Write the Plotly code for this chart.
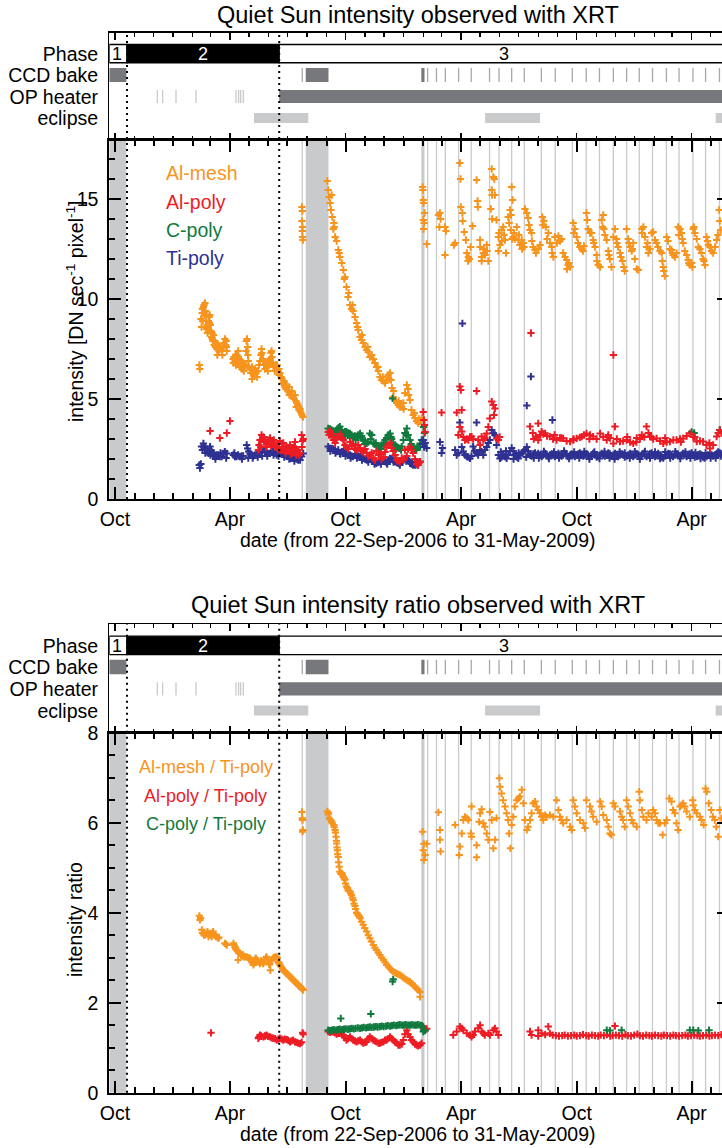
import plotly.graph_objects as go
from datetime import datetime, timedelta

# ---------------- data (x = days since 22-Sep-2006) ----------------
START = datetime(2006, 9, 22)
VIEW_END = 970.0            # right edge of the visible window (data run to day 982 = 31-May-2009)
DATA_END = 982

phase_edges = [0, 28, 269, 982]
phase_names = ["1", "2", "3"]
ccd_bake_long = [(0, 27), (311, 347), (494, 499)]
ccd_bake_short = [305.5, 504, 518, 532, 553, 573, 602, 617, 637, 657, 684, 706, 733, 755,
                  776, 798, 819, 839, 860, 882, 902, 924, 944, 966]
op_heater_short = [76, 84.5, 105.6, 137.2, 200.6, 204.8, 208, 212.2]
op_heater_long = [(269, 982)]
eclipse_seasons = [(229, 315), (595, 682), (960, 982)]

al_mesh = [(142.5,6.7),(143.3,6.5),(145,9.0),(146,8.6),(147,9.3),(147.5,9.5),(148,8.9),(149,9.6),(150,9.7),(150,9.3),(151,9.2),(151.5,9.8),(152,9.4),(153,8.9),(154,8.5),(155,8.7),(155.5,8.3),(156,8.6),(157,8.9),(157,8.4),(158,9.1),(158.5,8.8),(159,9.2),(160,8.7),(161,8.4),(162,8.1),(162.5,8.3),(163,8.0),(164,7.9),(165,8.2),(166,7.7),(167,7.9),(168,7.6),(169,7.8),(170.5,7.5),(171,7.2),(172,7.7),(173.5,7.4),(175,7.6),(177,7.5),(178.5,7.4),(179,7.2),(180,7.6),(181.5,7.8),(183,8.0),(184,7.7),(185,7.9),(185.5,7.6),(186,7.4),
(196,7.0),(196.5,6.8),(197.5,7.1),(199,6.9),(200,7.2),(200.5,6.7),(202,7.2),(204,7.4),(204.5,7.1),(205,6.8),(206,7.0),(207,6.6),(208.5,6.9),(210,6.5),(211.5,6.6),(212,6.8),(213,6.4),(215,6.7),
(216.5,7.4),(217,7.9),(218,8.0),(219,7.6),(219.5,7.2),(220,6.9),(221,6.6),(222.5,6.5),(224,6.3),(226,6.6),(226,6.0),(227.5,6.4),(229,6.2),(230.5,6.5),(232,6.3),(233,6.4),(234,6.1),(235.5,6.4),(237,6.7),(238.5,6.9),(240,7.2),(241,7.5),(241.5,7.3),(243,7.0),(244,6.9),(245,6.7),(246.5,6.5),(248,6.8),(249.5,6.6),(251,6.4),(252,6.9),(253,6.7),(254.5,7.0),(256,7.3),(257,7.4),(257.5,7.1),(259,6.8),(260.5,6.6),(262,6.4),(263,6.7),(264,6.5),(265.5,6.7),(267,6.4),(268.5,6.5),(269,6.2),(270,6.3),(272,6.1),(273.5,6.0),(275,5.8),(276.5,5.9),(277,5.7),(278,5.6),(279.5,5.5),(281,5.7),(283,5.4),(284.5,5.6),(285,5.2),(286,5.3),(287.5,5.2),(289,5.4),(291,5.1),(292.5,5.0),(294,5.2),(295.5,4.9),(296,4.6),(297,4.8),(298.5,4.7),(300,4.6),(302,4.5),(302,4.4),(303.5,4.3),(305,4.2),(306.5,4.1),
(305,14.6),(305.5,14.4),(305,13.9),(306,13.6),(305.5,13.4),(306,13.1),(306.5,12.95),
(345,15.9),(346.5,15.45),(348,15.1),(349.5,14.8),(351,14.45),(352,15.2),(353,14.1),(354.5,13.5),(355.5,13.8),(356,13.6),(357.5,13.1),(360,12.9),(362.5,12.45),(364,12.3),(365,12.1),(368,11.8),(370.5,11.45),(372,11.0),(373,11.1),(375.5,10.6),(378,10.1),(379,10.3),(381,9.7),(383.5,9.5),(385,9.7),(386,9.4),(389,9.1),(391.5,8.8),(393,8.6),(394,8.45),(397,8.1),(399.5,7.95),(400,8.2),(402,7.8),(405,7.6),(407.5,7.45),(409,7.6),(410,7.35),(412.5,7.1),(415.5,7.2),(417,7.0),(418,7.0),(420.5,6.8),(423,6.6),(425,6.6),(426,6.4),(428.5,6.1),(431,5.95),(433,6.1),(434,5.9),(436.5,5.8),(439,5.95),(441.5,6.2),(443,6.0),(444.5,6.3),(446,5.95),(447.5,5.55),(449.5,5.1),(450,5.4),(452.5,4.95),(455,4.8),(457.5,4.7),(458,4.9),(460,4.6),(463,4.6),(465.5,4.8),(466,4.5),(468,5.3),(471,5.7),(473,5.5),(474,5.2),(476,4.95),(478.5,4.45),(481,4.2),(483,4.3),(484,4.05),(486.5,3.9),(489,3.8),(490,4.0),(492,3.9),(494.5,4.05),
(496,15.6),(496.5,15.45),(497,14.95),(497.5,14.8),(497,13.95),(498.5,13.8),(497.5,13.5),(499,14.3),(502.5,12.75),
(521,14.2),(523.5,14.3),(524.5,14.0),(522.5,13.6),(531.5,13.6),(533,13.4),(531.5,12.2),(545.5,12.7),(547.5,12.8),
(555,16.8),(556,16.0),(556.5,14.6),(559,14.3),(559.5,13.9),(562,13.35),(564.5,12.95),(566,12.3),(568,11.9),(568.5,12.1),(570,12.0),(572,12.6),(575,13.65),
(581.5,15.95),(583,14.9),(583.5,14.6),(587,12.95),(587,12.6),(589.5,12.1),(589.5,11.9),(592,12.3),(593,12.5),(595,12.2),(597.5,12.7),(598,12.4),(600,11.9),
(605.5,16.5),(605.5,15.45),(608,16.1),(609.5,16.0),(606,15.2),(604,14.5),(610.5,15.2),(613,13.95),(606,14.0),
(616,13.1),(616,12.4),(617,13.3),(618.5,12.7),(621,13.45),(621.5,12.9),(623.5,13.6),(625,13.2),(626.5,12.95),(628,12.3),
(631.5,14.1),(633,13.8),(634.5,14.45),(635.5,13.45),(636,14.2),(637,15.6),(637.5,13.0),(638.5,14.95),(639.5,13.1),(640.5,13.3),(642,13.0),(645,13.6),
(647.5,12.95),(648.5,13.2),(650,12.7),(653,12.95),(653.5,12.5),(655.5,12.8),(656.5,12.6),(658,14.5),(661,14.3),(663,14.05),
(664.5,13.7),(666,13.45),(668.5,13.3),(669,12.9),(671,12.6),(674,12.45),(675.5,12.3),(679,12.5),(682,12.7),
(685.5,14.1),(686.5,13.7),(688,13.9),(691,13.6),(693,13.0),(695,13.3),(697.5,12.8),(700.5,12.6),(701,12.3),(703,12.1),
(705.5,13.1),(708.5,12.8),(711,13.15),(713.5,12.9),(716,13.0),(718.5,12.3),(721.5,12.1),(724,11.95),(724.5,11.5),(726.5,11.7),(727.5,11.8),(729.5,11.6),
(734.5,13.8),(735.5,13.3),(737,13.5),(740,13.1),(742,12.8),(745,12.6),(748,12.5),(750,12.4),(751.5,12.65),(755.5,14.3),(756.5,13.95),(758,13.5),
(761,13.3),(763.5,13.3),(766,12.95),(767,12.8),(769,12.6),(771.5,12.2),(772,11.9),(774,11.7),(777,11.6),
(779.5,13.95),(781,13.6),(782,14.2),(783,13.5),(784.5,13.2),(787.5,12.95),(790,12.4),(791,12.2),(792.5,12.0),(795,11.6),
(798,13.1),(800.5,13.5),(803,13.0),(803.5,12.8),(805.5,12.6),(808.5,12.3),(810,12.1),(812.5,11.9),(814.5,11.6),(816,11.4),(819,13.5),
(821.5,13.0),(822.5,12.8),(824.5,12.6),(827,12.4),(828,12.5),(829.5,12.8),(832,12.0),(835,11.5),(837.5,11.45),
(843,13.5),(843.5,13.3),(845.5,13.6),(848,13.1),(850.5,12.6),(852,12.8),(853.5,12.3),(856,12.5),(858.5,13.3),(861,13.35),
(864,12.95),(866.5,12.8),(868.5,12.6),(872,12.4),(874.5,12.3),(875.5,11.9),(877,11.6),(878,11.4),(879.5,11.15),(882.5,13.1),(884.5,12.9),(887.5,12.5),
(890,12.45),(891.5,12.3),(892.5,12.2),(895.5,12.1),(898,12.3),(900.5,13.6),(901.5,13.2),(903.5,13.5),(906,13.3),(907,13.0),(908.5,12.8),
(911,12.4),(914,12.2),(916.5,11.95),(917.5,11.8),(919,11.7),(922,11.8),(923,11.6),(924.5,13.5),(925.5,13.6),(927,13.3),(930,13.0),
(932.5,12.6),(935,12.5),(937.5,12.3),(940,12.0),(941.5,11.9),(943,11.7),(945.5,13.1),(947,12.9),(948.5,12.7),(951,12.6),(953.5,12.4),(956,12.3),
(959,12.6),(961.5,12.95),(963.5,13.2),(965.5,14.45),(966.5,13.9),(968,13.45)]

al_poly = [(159.5,3.4),(175,3.05),(186,3.3),(191,3.9),
(236,2.45),(237,2.7),(238.5,2.95),(240,2.6),(241,3.2),(242.5,3.0),(244,3.1),(245,2.85),(246.5,2.95),(248,2.6),(249,2.8),(251,2.95),(253,2.75),(254.5,3.05),(256,2.65),(257,2.9),(259,2.75),(260.5,2.95),(262,2.8),(263,2.6),(265,2.6),(267,2.5),(268.5,2.75),(270,2.9),(271,2.45),(273,2.6),(274,2.45),(275.5,2.8),(278,2.55),(279,2.3),(281,2.6),(283,2.4),(284.5,2.55),(286,2.7),(287,2.25),(288.5,2.45),(290,2.3),(291,2.35),(292.5,2.6),(294,2.85),(295.5,2.5),(296,2.2),(297,2.3),(299,2.45),(300,2.2),(302,2.3),(304.5,3.2),(305,2.6),(306,2.9),(307,3.0),
(346.5,3.35),(348,3.2),(349.5,3.4),(352,3.1),(353.5,3.25),(354.5,2.95),(357.5,2.8),(360,3.0),(362,3.1),(365,3.25),(368,3.05),(370.5,2.95),(373,2.7),(375.5,2.6),(378,2.5),(381,2.85),(383.5,2.65),(386,2.75),(389,2.5),(391.5,2.45),(394,2.7),(397,2.55),(399.5,2.4),(402,2.35),(405,2.5),(407.5,2.3),(410,2.15),(412.5,2.2),(415.5,2.3),(418,2.05),(420.5,1.95),(423,2.4),(426,2.2),(428.5,2.25),(431,2.0),(434,2.1),(436.5,2.35),(439,2.6),(441.5,2.7),(444.5,2.8),(447,2.55),(449.5,2.4),(452.5,2.2),(455,1.95),(457.5,1.9),(460,1.85),(463,2.05),(465.5,1.95),(468,2.45),(471,2.15),(473,2.5),(476,2.6),(478.5,2.45),(481,2.3),(484,2.0),(486.5,1.75),(489,1.7),(490,1.8),(492,1.85),
(497,4.35),(498,3.95),(499,3.7),(500,3.35),
(526,4.32),(550,4.32),(555,5.62),(556.5,5.45),(558,4.45),(552.5,3.2),(555,3.6),(558,3.37),(560.5,3.1),(563,2.95),(566,3.0),(568.5,2.95),(571,3.1),(573.5,3.12),(576,3.0),(581.5,5.4),(584,2.95),(587,2.7),(589.5,3.12),(592,2.95),(594.5,3.05),(597.5,3.28),(600,3.6),(602.5,4.03),(605.5,4.87),(608,4.7),(609,4.2),(610.5,4.53),(613,3.03),(616,2.95),(618,3.1),
(667.5,8.3),(798,7.2),
(666,3.62),(670.5,3.3),(672,3.0),(675.5,3.1),(679,3.78),(679,2.95),(682,3.2),(684.5,3.37),(687,3.25),(690,3.28),(693,3.15),(697.5,3.12),(702.5,3.0),(705,3.2),(708,2.95),(713.5,3.05),(716,3.05),(718.5,3.03),(724,2.9),(729.5,2.87),(734.5,2.95),(735,3.0),(740,3.03),(745,3.08),(748,3.12),(751.5,3.2),(755.5,3.28),(760,3.0),(761,3.2),(766,3.12),(771.5,3.0),(777,3.28),(782,3.1),(787.5,2.95),(790,3.2),(792.5,3.05),(798,2.78),(800.5,3.62),(803.5,3.0),(808.5,2.87),(813.5,2.9),(819,2.95),(820,3.1),(824.5,2.85),(829.5,2.78),(834.5,2.85),(835,3.05),(840,3.0),(843,3.2),(847,3.1),(850.5,3.62),(853.5,3.3),(856,3.12),(858,3.1),(861,3.0),(866.5,3.03),(872,2.9),(877,2.78),(880,3.05),(882.5,2.85),(887.5,2.87),(893,2.95),(898,2.95),(903.5,3.0),(905,2.85),(908.5,3.03),(914,3.15),(919,3.28),(924.5,3.1),(927,3.1),(930,2.87),(935,2.9),(940,2.87),(945.5,2.7),(950,2.8),(951,2.53),(956,2.7),(961.5,3.12),(964,3.3),(966.5,3.45),(969,3.3)]

c_poly = [(346.5,3.53),(349.5,3.5),(352,3.45),(354.5,3.4),(357.5,3.37),(360,3.45),(362.5,3.55),(365,3.62),(368,3.45),(370.5,3.28),(373,3.37),(375.5,3.37),(378,3.3),(381,3.28),(383.5,3.2),(386,3.12),(389,3.15),(391.5,3.12),(394,3.2),(397,3.28),(399.5,3.15),(402,2.95),(405,2.9),(407.5,2.78),(410,2.85),(412.5,3.28),(415.5,3.2),(418,2.78),(420.5,2.75),(423,2.62),(426,2.65),(428.5,2.62),(431,2.7),(434,2.78),(436.5,2.95),(439,3.05),(441.5,3.2),(444.5,3.28),(447,3.0),(448.5,5.03),(449.5,2.78),(452.5,2.7),(455,2.62),(457.5,2.55),(460,2.53),(463,2.62),(465.5,2.95),(468,3.3),(471,3.53),(473,3.2),(476,2.95),(478.5,2.62),(481,2.55),(484,2.5),(486.5,2.55),(489,2.6),(492,2.78),(494.5,2.95),
(350,3.3),(358,3.2),(366,3.3),(374,3.15),(382,3.05),(390,2.95),(398,3.05),(404,2.75),(414,3.0),(422,2.8),(430,2.5),(438,2.8),(446,3.1),(454,2.5),(462,2.45),(470,3.2),(478,2.75),(486,2.45),(492,2.6),
(497.5,3.6),(499,3.3),(789.5,3.1),(922,3.35),(926,3.3),(966.5,3.45)]

ti_poly = [(142.5,1.7),(143.5,1.55),(145,1.75),(146,2.62),(147.5,2.45),(149,2.78),(150,2.6),(151.5,2.62),(152,2.3),(153,2.5),(154,2.45),(155.5,2.35),(157,2.28),(158,2.4),(159.5,2.62),(160,2.2),(161,2.45),(162,2.37),(163.5,2.3),(164.5,2.2),(166,2.15),(167.5,2.12),(168,2.0),(170,2.2),(172.5,2.2),(175,2.12),(176,2.3),(178,2.12),(180.5,2.28),(183,2.37),(185,2.05),(186,2.28),
(196.5,2.2),(198,2.3),(199,2.12),(201.5,2.12),(204,2.2),(207,2.12),(209.5,2.15),(210,2.0),(212,2.15),
(217.5,2.7),(219,2.53),(220,2.05),(220.5,2.37),(222.5,2.28),(225.5,2.2),(227,2.05),(228,2.15),(230.5,2.2),(233.5,2.2),(235,2.1),(236,2.28),(238.5,2.37),(241,2.45),(242,2.15),(244,2.45),(246.5,2.37),(249,2.37),(250,2.15),(251.5,2.28),(254.5,2.28),(257,2.37),(259.5,2.37),(260,2.2),(262.5,2.28),(265,2.2),(267.5,2.28),(268,2.15),(270,2.28),(273,2.25),(275.5,2.25),(277,2.1),(278,2.2),(281,2.15),(283.5,2.12),(285,2.0),(286,2.03),(288.5,2.12),(291,2.12),(293,1.9),(294,2.03),(296.5,2.0),(299,1.95),(300,2.1),(302,1.95),(304.5,2.12),(307,2.28),
(346.5,2.62),(349.5,2.53),(350,2.4),(352,2.53),(354.5,2.5),(357.5,2.45),(358,2.3),(360,2.37),(362.5,2.45),(365,2.28),(366,2.25),(368,2.37),(370.5,2.37),(373,2.32),(374,2.15),(375.5,2.28),(378,2.25),(381,2.2),(382,2.05),(383.5,2.15),(386,2.12),(389,2.2),(391.5,2.2),(392,2.05),(394,2.15),(397,2.12),(399.5,2.08),(400,1.95),(402,2.03),(405,2.0),(407.5,1.95),(410,2.0),(410,1.85),(412.5,2.0),(415.5,1.92),(418,1.87),(420,1.75),(420.5,1.82),(423,1.78),(426,1.83),(428.5,1.87),(430,1.75),(431,1.92),(434,1.95),(436.5,1.87),(439,1.82),(440,1.75),(441.5,1.95),(444.5,2.03),(447,2.0),(449.5,1.95),(450,1.85),(452.5,1.87),(455,1.82),(457.5,1.78),(460,1.78),(460,1.7),(463,1.87),(465.5,1.95),(468,2.03),(470,1.9),(471,2.03),(473,1.95),(476,1.78),(478.5,1.75),(480,1.85),(481,1.7),(484,1.7),(486.5,1.78),(488,1.7),(489,1.82),(492,1.87),
(496,2.75),(497,2.95),(498.5,2.6),(500,2.8),(502.5,2.55),(523.5,2.85),(526,2.3),(527.5,2.55),
(547.5,2.45),(550,2.2),(552.5,2.3),(555,3.82),(558,2.6),(559,8.78),(560.5,2.37),(563,2.2),(566,2.12),(568.5,2.1),(571,2.03),(573.5,2.15),(576,2.62),(578.5,2.4),(581.5,3.82),(581.5,2.3),(584,2.2),(587,2.45),(589.5,2.37),(592,2.2),(594.5,2.45),(597.5,2.6),(600,2.8),(602.5,2.95),(605.5,3.45),(608,3.3),(610.5,3.2),(613,2.7),(616,2.2),(618.5,2.03),(621,2.1),(623.5,2.2),(626.5,2.12),(629,2.03),(631.5,2.2),(634.5,2.4),(637,2.55),(639.5,2.4),(642,2.2),(645,2.1),(647.5,2.03),(650,2.2),(653,2.3),(655.5,2.37),(658,2.45),(661,4.67),(661,2.6),(663,2.4),(666,2.2),(667.5,6.12),(668.5,2.15),(671,2.25),(674,2.3),(676.5,2.2),(679,2.28),(682,2.2),(684.5,2.12),(687,2.2),(690,2.28),(692.5,2.2),(695,2.12),(697.5,2.2),(701.5,3.95),(700.5,2.25),(703,2.2),(705.5,2.12),(708,2.2),(711,2.28),(713.5,2.2),(716,2.15),(718.5,2.2),(721.5,2.28),(724,2.2),(726.5,2.12),(729.5,2.2),(732,2.25),(734.5,2.2),(737,2.12),(740,2.2),(742.5,2.25),(745,2.3),(748,2.2),(750.5,2.15),(753,2.2),(755.5,2.25),(758,2.2),(761,2.12),(763.5,2.2),(766,2.28),(768.5,2.2),(771.5,2.1),(774,2.15),(777,2.2),(779.5,2.28),(782,2.2),(784.5,2.15),(787.5,2.2),(790,2.3),(792.5,2.25),(795,2.15),(798,2.2),(800.5,2.28),(803,2.2),(805.5,2.12),(808.5,2.2),(811,2.25),(813.5,2.2),(816,2.1),(819,2.15),(821.5,2.2),(824.5,2.28),(827,2.2),(829.5,2.12),(832,2.2),(835,2.25),(837.5,2.2),(840,2.15),(843,2.2),(845.5,2.28),(848,2.2),(850.5,2.12),(853.5,2.2),(856,2.25),(858.5,2.3),(861,2.2),(864,2.12),(866.5,2.2),(869,2.28),(872,2.2),(874.5,2.1),(877,2.05),(879.5,2.15),(882.5,2.2),(885,2.28),(887.5,2.25),(890,2.2),(892.5,2.12),(895.5,2.2),(898,2.25),(900.5,2.2),(903.5,2.15),(906,2.2),(908.5,2.28),(911,2.2),(914,2.12),(916.5,2.2),(919,2.25),(922,2.3),(924.5,2.2),(927,2.1),(930,2.12),(932.5,2.2),(935,2.25),(937.5,2.2),(940,2.1),(942.5,2.05),(945.5,2.12),(948,2.2),(951,2.28),(953.5,2.2),(956,2.15),(959,2.2),(961.5,2.28),(964,2.35),(966.5,2.3),(969,2.25),
(620,2.35),(628,2.4),(640,2.0),(648,2.3),(660,2.1),(672,2.05),(680,2.05),(688,2.38),(696,2.02),(704,2.35),(712,2.05),(720,2.4),(728,2.02),(736,2.35),(744,2.05),(752,2.38),(760,2.0),(768,2.35),(776,2.02),(784,2.38),(792,2.05),(800,2.0),(808,2.36),(816,2.3),(824,2.05),(832,2.37),(840,2.0),(848,2.38),(856,2.05),(864,2.35),(872,2.02),(880,2.35),(888,2.05),(896,2.37),(904,2.02),(912,2.36),(920,2.05),(928,2.33),(936,2.02),(944,2.3),(952,2.05),(960,2.05),(968,2.15)]

ratio_mesh = [(142.5,3.93),(143.5,3.84),(144.5,3.88),(146.5,3.62),(147.5,3.55),(149,3.54),(150,3.5),(151.5,3.51),(154,3.54),(155.5,3.58),(157,3.47),(158,3.52),(159.5,3.54),(161,3.5),(162,3.47),(163.5,3.55),(164.5,3.58),(166,3.5),(167.5,3.51),(169,3.47),(170,3.47),(172.5,3.43),(173.5,3.45),(183,3.32),(184.5,3.3),(186,3.28),(196.5,3.32),(197.5,3.28),(199,3.24),(200,3.2),(201.5,3.17),(203,3.15),(204,2.95),(204,3.13),(205.5,3.1),(207,3.1),(208.5,3.06),(209.5,3.06),(211,3.04),(212,3.06),(213,3.02),(215,3.02),(217.5,3.02),(219.5,3.0),(222.5,2.99),(224.5,2.95),(225.5,2.91),(226.5,2.89),(228,2.84),(229,2.88),(230.5,2.95),(232,2.99),(233.5,2.95),(235.5,2.91),(238.5,2.87),(240,2.93),(241,2.91),(243.5,2.87),(245,2.9),(246.5,2.95),(248,3.0),(249,3.02),(251,2.95),(253,2.85),(254.5,2.87),(255,2.72),(257,2.95),(259.5,2.99),(260.5,3.0),(262.5,3.02),(265,3.02),(266,2.99),(267.5,2.91),(268.5,2.88),(270,2.84),(272,2.8),(274,2.76),(275.5,2.73),(276.5,2.71),(278,2.69),(279.5,2.66),(281,2.65),(282,2.63),(283.5,2.62),(284.5,2.6),(286,2.58),(287.5,2.56),(288.5,2.54),(290,2.52),(291,2.5),(292.5,2.48),(294,2.47),(295.5,2.45),(296.5,2.43),(298,2.41),(299,2.39),(300.5,2.37),(302,2.36),(303.5,2.34),(304.5,2.32),(306,2.3),(307,2.28),
(305,6.24),(305.5,6.1),(306,6.06),(306.5,5.84),(306,5.8),
(345,6.25),(346.5,6.18),(347,6.22),(348,6.1),(350.5,6.06),(352,6.02),(353,5.99),(355.5,5.95),(356,5.9),(357.5,5.84),(358,5.78),(359,5.69),(359.5,5.6),(360,5.54),(360.5,5.45),(361,5.39),(361.5,5.3),(362.5,5.24),(363,5.12),(364,5.02),(365,4.91),(366.5,4.86),(368,4.88),(369,4.85),(370.5,4.8),(372,4.76),(373,4.73),(374,4.65),(375.5,4.58),(377,4.55),(378,4.5),(379.5,4.48),(381,4.47),(382,4.43),(383.5,4.39),(385,4.33),(386,4.28),(387.5,4.2),(389,4.15),(390,4.08),(391.5,4.0),(392.5,3.98),(394,3.95),(395.5,3.92),(397,3.88),(399.5,3.8),(402,3.73),(404.5,3.66),(407.5,3.58),(410,3.5),(412.5,3.43),(415,3.36),(418,3.28),(420.5,3.22),(423,3.17),(426,3.11),(428.5,3.06),(431,3.0),(434,2.95),(436.5,2.9),(439,2.84),(442,2.8),(444.5,2.76),(447,2.72),(449.5,2.69),(452.5,2.67),(455,2.65),(457.5,2.63),(460,2.62),(463,2.59),(465.5,2.56),(468,2.53),(471,2.5),(473.5,2.48),(476,2.47),(478.5,2.43),(481,2.39),(484,2.36),(486.5,2.32),(489,2.28),(492,2.24),(492,2.13),
(496,5.8),(498,5.53),(497,5.39),(500,5.28),(498,5.17),(502.5,5.53),(521,6.23),(523.5,5.84),(523.5,5.62),(524.5,5.36),(547.5,5.95),(555,5.47),(554,5.28),(558,5.76),(560.5,6.06),(563,6.13),(566,6.1),(568.5,6.06),(573.5,6.36),(572.5,5.76),(573.5,5.69),(581.5,5.5),(581.5,5.23),(585.5,6.02),(587,6.21),(589.5,6.3),(592,5.99),(594.5,5.91),(597.5,5.76),(600,5.62),(602.5,6.24),(605.5,6.06),(608,5.43),(610.5,5.62),(613,6.1),(617.5,6.99),(618.5,6.8),(621,6.65),(623.5,6.5),(626.5,6.36),(629,6.21),(631.5,6.06),(633,5.76),(635,5.43),(637,5.95),(639.5,6.13),(642,6.36),(645,6.5),(647.5,6.54),(650,6.58),(653,6.73),(655.5,6.43),(658,6.06),(661,5.84),(663,5.91),(666,6.06),(668.5,6.21),(671,6.43),(674,6.47),(676.5,6.36),(679,6.28),(682,6.21),(684.5,6.13),(687,6.06),(690,6.17),(692.5,6.13),(697.5,6.17),(703,6.13),(708,6.5),(711,6.28),(713.5,6.13),(716,6.06),(718.5,5.99),(724,6.06),(729.5,5.91),(732,5.84),(734.5,6.5),(737,6.36),(740,6.21),(745,6.06),(750.5,5.99),(753,5.88),(755.5,6.5),(761,6.36),(763.5,6.25),(766,6.13),(771.5,6.02),(777,6.47),(779.5,6.36),(782,6.17),(787.5,6.06),(790,5.91),(792.5,5.76),(795,5.73),(798,6.43),(800.5,6.36),(808.5,6.25),(811,6.13),(813.5,6.06),(816,5.91),(819,6.5),(821.5,6.36),(824.5,6.21),(827,6.06),(829.5,5.99),(835,5.91),(839,6.69),(840,6.5),(843,6.28),(845.5,6.13),(850.5,6.06),(853.5,6.21),(858.5,6.13),(861,6.28),(864,6.21),(866.5,6.06),(869,5.99),(872,5.99),(876,5.73),(879.5,5.99),(882.5,6.06),(886.5,6.54),(890,6.47),(892.5,6.28),(895.5,6.21),(898,5.99),(900.5,5.84),(903.5,6.36),(906,6.39),(908.5,6.43),(911,6.36),(914,6.25),(919,6.13),(923.5,6.5),(924.5,6.39),(927,6.28),(930,6.21),(935,6.13),(937.5,6.06),(941,5.95),(944,6.76),(946,6.69),(949,6.43),(953,6.28),(955.5,6.13),(958.5,6.06),(961,5.91),(964,5.69),(966.5,6.28),(969,6.1)]

ratio_alpoly = [(161,1.33),
(236,1.21),(237,1.24),(238.5,1.28),(240,1.26),(241,1.25),(244,1.24),(246.5,1.26),(249,1.28),(251,1.25),(254.5,1.24),(257,1.22),(259.5,1.21),(262.5,1.2),(265,1.17),(267.5,1.19),(270,1.21),(273,1.19),(275.5,1.17),(278,1.19),(281,1.18),(283.5,1.16),(286,1.13),(288.5,1.15),(291,1.17),(294,1.13),(296.5,1.12),(299,1.1),(302,1.09),(304.5,1.12),(306,1.33),(307,1.3),
(346.5,1.36),(349.5,1.34),(352,1.36),(354.5,1.35),(357.5,1.33),(360,1.3),(362.5,1.32),(365,1.32),(368,1.3),(370.5,1.28),(373,1.22),(375.5,1.17),(378,1.2),(381,1.24),(383.5,1.2),(386,1.17),(389,1.15),(391.5,1.13),(394,1.15),(397,1.17),(399.5,1.13),(402,1.1),(405,1.12),(407.5,1.13),(410,1.2),(412.5,1.24),(415.5,1.2),(418,1.17),(420.5,1.15),(423,1.13),(426,1.1),(428.5,1.1),(431,1.12),(434,1.13),(436.5,1.17),(439,1.17),(441.5,1.2),(444.5,1.24),(447,1.2),(449.5,1.17),(452.5,1.13),(455,1.1),(457.5,1.06),(460,1.06),(463,1.08),(465.5,1.17),(468,1.3),(471,1.39),(473,1.3),(476,1.24),(478.5,1.17),(481,1.13),(484,1.08),(486.5,1.06),(489,1.04),(492,1.06),(494.5,1.1),(497,1.47),(498,1.42),(500,1.39),(502.5,1.42),
(544.5,1.28),(550,1.36),(555,1.47),(558,1.43),(560.5,1.39),(566,1.32),(571,1.28),(573.5,1.24),(576,1.28),(579,1.36),(584,1.43),(587,1.5),(589.5,1.36),(592,1.32),(594.5,1.28),(600,1.32),(602.5,1.28),(608,1.39),(610.5,1.43),(613,1.36),(616,1.28),
(666,1.36),(668.5,1.28),(679,1.39),(679,1.26),(684.5,1.32),(690,1.29),(695,1.47),(697.5,1.32),
(702,1.28),(707,1.27),(712,1.26),(717,1.27),(721,1.28),(726,1.26),(731,1.27),(736,1.28),(740,1.26),(745,1.27),(750,1.29),(755,1.27),(759,1.26),(764,1.28),(769,1.27),(774,1.26),(778,1.28),(783,1.27),(788,1.29),(793,1.26),(797,1.27),(800.5,1.48),(802,1.28),(807,1.27),(812,1.26),(817,1.29),(821,1.27),(826,1.26),(831,1.28),(836,1.3),(840,1.27),(845,1.26),(850,1.28),(855,1.27),(859,1.26),(864,1.28),(869,1.27),(874,1.26),(878,1.28),(883,1.27),(888,1.26),(893,1.28),(897,1.27),(902,1.26),(907,1.27),(912,1.28),(916,1.26),(921,1.27),(926,1.28),(931,1.27),(935,1.26),(940,1.27),(945,1.28),(950,1.26),(954,1.27),(959,1.28),(964,1.27),(969,1.29)]

ratio_cpoly = [(346.5,1.39),(349.5,1.38),(352.5,1.39),(355.5,1.4),(359,1.39),(362,1.4),(365,1.41),(366.5,1.65),(368.5,1.4),(371.5,1.41),(374.5,1.42),(378,1.41),(381,1.42),(384,1.43),(387,1.42),(390,1.43),(393.5,1.44),(397,1.43),(400,1.44),(403,1.45),(406.5,1.44),(409.5,1.45),(412.5,1.46),(414,1.75),(415.5,1.45),(419,1.46),(422,1.47),(425,1.46),(428.5,1.47),(431.5,1.48),(434.5,1.47),(438,1.48),(441,1.49),(444.5,1.48),(447.5,1.49),(448.5,2.47),(449.5,2.52),(450.5,1.5),(454,1.49),(457,1.5),(460,1.51),(463.5,1.5),(466.5,1.5),(469.5,1.51),(473,1.5),(476,1.5),(479,1.51),(482.5,1.5),(485.5,1.5),(488.5,1.51),(492,1.5),(495,1.49),(497,1.36),(498,1.39),(500,1.38),
(787.5,1.39),(792.5,1.38),(811,1.39),(919,1.39),(924.5,1.39),(932.5,1.38),(949.5,1.39)]

status_rows = ["eclipse", "OP heater", "CCD bake", "Phase"]

# ---------------- styling ----------------
W, H = 722, 1148
FONT = "Liberation Sans, Arial, Helvetica, sans-serif"
ORANGE, RED, GREEN, BLUE = "#F7941D", "#ED1C24", "#107A3E", "#2E3192"
DARK_GRAY, LIGHT_GRAY, MID_GRAY = "#77787B", "#C9CACC", "#A8A8A8"
X0 = 109.3 / W


def dt(d):
    return START + timedelta(days=float(d))


def py(pix):
    return 1 - pix / H


panels = [
    dict(st=(32.7, 140.0), mn=(140.0, 499.0), yr=17.95, dt_=5, mt=1, title="Quiet Sun intensity observed with XRT",
         ty=15, ytitle="intensity [DN sec<sup>-1</sup> pixel<sup>-1</sup>]", yty=311, xty=540),
    dict(st=(624.3, 732.7), mn=(732.7, 1092.7), yr=8, dt_=2, mt=0.5, title="Quiet Sun intensity ratio observed with XRT",
         ty=605, ytitle="intensity ratio", yty=920, xty=1134),
]

fig = go.Figure()
layout = dict(width=W, height=H, margin=dict(l=0, r=0, t=0, b=0), autosize=False,
              paper_bgcolor="white", plot_bgcolor="white", showlegend=False,
              font=dict(family=FONT, color="black", size=19.5))
shapes, annos = [], []


def mk(pts, color, xa, ya):
    return go.Scatter(x=[dt(d) for d, _ in pts], y=[v for _, v in pts], mode="markers",
                      xaxis=xa, yaxis=ya, hoverinfo="skip",
                      marker=dict(symbol="cross-thin", size=5.2, color=color,
                                  line=dict(width=2.0, color=color)))


for i, p in enumerate(panels):
    sx, sy = ("x", "y") if i == 0 else ("x3", "y3")
    mx, my = ("x2", "y2") if i == 0 else ("x4", "y4")
    ox = "y5" if i == 0 else "y6"
    sxk, syk = ("xaxis", "yaxis") if i == 0 else ("xaxis3", "yaxis3")
    mxk, myk = ("xaxis2", "yaxis2") if i == 0 else ("xaxis4", "yaxis4")
    oyk = "yaxis5" if i == 0 else "yaxis6"

    xbase = dict(type="date", range=[dt(0), dt(VIEW_END)], domain=[X0, 1], showgrid=False, zeroline=False,
                 showline=True, linecolor="black", mirror="ticks", ticks="inside", tickcolor="black",
                 tick0="2006-10-01", dtick="M6", automargin=False, fixedrange=True)
    layout[sxk] = dict(xbase, anchor=sy, ticklen=7, tickwidth=1.3, linewidth=1.3, showticklabels=False,
                       minor=dict(ticks="inside", ticklen=4, tickwidth=1.3, tickcolor="black",
                                  dtick="M1", tick0="2006-10-01", showgrid=False))
    layout[mxk] = dict(xbase, anchor=my, ticklen=12, tickwidth=2, linewidth=2, tickformat="%b",
                       tickfont=dict(size=19.5), ticklabelstandoff=2,
                       minor=dict(ticks="inside", ticklen=6, tickwidth=2, tickcolor="black",
                                  dtick="M1", tick0="2006-10-01", showgrid=False))
    layout[syk] = dict(domain=[py(p["st"][1]), py(p["st"][0])], anchor=sx, range=[0, 5],
                       tickvals=[1, 2, 3, 4], ticktext=status_rows, ticks="", showline=True,
                       linecolor="black", linewidth=1.3, showgrid=False, zeroline=False,
                       tickfont=dict(size=19.5), ticklabelstandoff=6, automargin=False, fixedrange=True)
    layout[myk] = dict(domain=[py(p["mn"][1]), py(p["mn"][0])], anchor=mx, range=[0, p["yr"]],
                       tick0=0, dtick=p["dt_"], ticks="inside", ticklen=12, tickwidth=2, tickcolor="black",
                       showline=True, linecolor="black", linewidth=2, showgrid=False, zeroline=False,
                       tickfont=dict(size=19.5), ticklabelstandoff=5, automargin=False, fixedrange=True,
                       minor=dict(ticks="inside", ticklen=6, tickwidth=2, tickcolor="black",
                                  dtick=p["mt"], showgrid=False))
    layout[oyk] = dict(overlaying=my, anchor=mx, side="right", range=[0, p["yr"]], tick0=0, dtick=p["dt_"],
                       ticks="inside", ticklen=5, tickwidth=2, tickcolor="black", showticklabels=False,
                       showline=False, showgrid=False, zeroline=False, fixedrange=True)

    fig.add_trace(go.Scatter(x=[None], y=[None], xaxis=sx, yaxis=sy, showlegend=False))
    fig.add_trace(go.Scatter(x=[None], y=[None], xaxis=mx, yaxis=ox, showlegend=False))

    # ---- status strip ----
    for k in range(3):
        fill = "black" if k == 1 else "white"
        shapes.append(dict(type="rect", xref=sx, yref=sy, x0=dt(phase_edges[k]), x1=dt(phase_edges[k + 1]),
                           y0=3.6, y1=4.45, fillcolor=fill, line=dict(color="black", width=1.3), layer="above"))
        mid = phase_edges[k] + (phase_edges[k + 1] - phase_edges[k]) / 2 if k > 0 else 12
        annos.append(dict(xref=sx, yref=sy, x=dt(mid), y=4.02, text=phase_names[k], showarrow=False,
                          font=dict(size=18, color="white" if k == 1 else "black"), xanchor="center",
                          yanchor="middle"))
    for a, b in ccd_bake_long:
        shapes.append(dict(type="rect", xref=sx, yref=sy, x0=dt(a), x1=dt(b), y0=2.7, y1=3.36,
                           fillcolor=DARK_GRAY, line=dict(width=0), layer="above"))
    for d in ccd_bake_short:
        shapes.append(dict(type="line", xref=sx, yref=sy, x0=dt(d), x1=dt(d), y0=2.7, y1=3.36,
                           line=dict(color=MID_GRAY, width=1.3), layer="above"))
    for d in op_heater_short:
        shapes.append(dict(type="line", xref=sx, yref=sy, x0=dt(d), x1=dt(d), y0=1.72, y1=2.33,
                           line=dict(color=LIGHT_GRAY, width=1.3), layer="above"))
    for a, b in op_heater_long:
        shapes.append(dict(type="rect", xref=sx, yref=sy, x0=dt(a), x1=dt(b), y0=1.72, y1=2.33,
                           fillcolor=DARK_GRAY, line=dict(width=0), layer="above"))
    for a, b in eclipse_seasons:
        shapes.append(dict(type="rect", xref=sx, yref=sy, x0=dt(a), x1=dt(b), y0=0.79, y1=1.26,
                           fillcolor=LIGHT_GRAY, line=dict(width=0), layer="above"))

    # ---- bake-outs in the main panel ----
    for a, b in ccd_bake_long:
        shapes.append(dict(type="rect", xref=mx, yref=my + " domain", x0=dt(a), x1=dt(b), y0=0, y1=1,
                           fillcolor=LIGHT_GRAY, line=dict(width=0), layer="below"))
    for d in ccd_bake_short:
        shapes.append(dict(type="line", xref=mx, yref=my + " domain", x0=dt(d), x1=dt(d), y0=0, y1=1,
                           line=dict(color=LIGHT_GRAY, width=1.3), layer="below"))

    # ---- phase boundaries (dotted) ----
    for d in phase_edges[1:3]:
        shapes.append(dict(type="line", xref=mx, yref="paper", x0=dt(d), x1=dt(d),
                           y0=py(p["mn"][1]), y1=py(p["st"][0]),
                           line=dict(color="black", width=2, dash="2px,4px"), layer="above"))

    # ---- titles ----
    annos.append(dict(xref="paper", yref="paper", x=418 / W, y=py(p["ty"]), text=p["title"], showarrow=False,
                      font=dict(size=23.5), xanchor="center", yanchor="middle"))
    annos.append(dict(xref="paper", yref="paper", x=418 / W, y=py(p["xty"]),
                      text="date (from 22-Sep-2006 to 31-May-2009)", showarrow=False,
                      font=dict(size=19.5), xanchor="center", yanchor="middle"))
    annos.append(dict(xref="paper", yref="paper", x=75 / W, y=py(p["yty"]), text=p["ytitle"], showarrow=False,
                      textangle=-90, font=dict(size=19.5), xanchor="center", yanchor="middle"))

# ---- data traces ----
fig.add_trace(mk(al_mesh, ORANGE, "x2", "y2"))
fig.add_trace(mk(c_poly, GREEN, "x2", "y2"))
fig.add_trace(mk(ti_poly, BLUE, "x2", "y2"))
fig.add_trace(mk(al_poly, RED, "x2", "y2"))
fig.add_trace(mk(ratio_mesh, ORANGE, "x4", "y4"))
fig.add_trace(mk(ratio_alpoly, RED, "x4", "y4"))
fig.add_trace(mk(ratio_cpoly, GREEN, "x4", "y4"))

# ---- in-plot labels ----
for txt, col, yy in [("Al-mesh", ORANGE, 173), ("Al-poly", RED, 201.5), ("C-poly", GREEN, 230),
                     ("Ti-poly", BLUE, 258.3)]:
    annos.append(dict(xref="paper", yref="paper", x=164 / W, y=py(yy), text=txt, showarrow=False,
                      font=dict(size=19.5, color=col), xanchor="left", yanchor="middle"))
for txt, col, yy in [("Al-mesh / Ti-poly", ORANGE, 766.7), ("Al-poly / Ti-poly", RED, 796),
                     ("C-poly / Ti-poly", GREEN, 824.3)]:
    annos.append(dict(xref="paper", yref="paper", x=205.5 / W, y=py(yy), text=txt, showarrow=False,
                      font=dict(size=18, color=col), xanchor="center", yanchor="middle"))

layout["shapes"] = shapes
layout["annotations"] = annos
fig.update_layout(**layout)
fig.write_html("out.html", config={"displayModeBar": False, "staticPlot": True},
               post_script="document.body.style.margin='0';document.body.style.padding='0';"
                           "document.documentElement.style.overflow='hidden';")
